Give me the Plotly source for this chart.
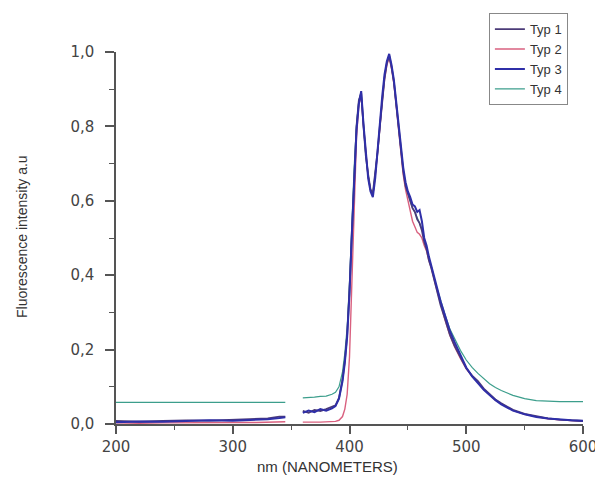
import plotly.graph_objects as go

# Wavelengths (nm); 352 marks the gap in the recorded spectra
wavelengths = [200, 220, 240, 260, 280, 300, 320, 330, 340, 345,
               352,
               360, 365, 370, 375, 380, 385, 388, 391, 394, 396, 398,
               400, 402, 404, 406, 408, 410, 412, 414, 416, 418,
               420, 422, 424, 426, 428, 430, 432, 434, 436, 438,
               440, 442, 444, 446, 448, 450, 452, 454, 456, 458,
               460, 462, 464, 466, 468, 470, 474, 478, 482, 486,
               490, 495, 500, 505, 510, 515, 520, 525, 530, 540,
               550, 560, 570, 580, 590, 600]

typ1 = [0.008, 0.006, 0.008, 0.010, 0.009, 0.012, 0.013, 0.015, 0.020, 0.020,
        None,
        0.035, 0.030, 0.038, 0.035, 0.040, 0.045, 0.050, 0.070, 0.120, 0.170, 0.240,
        0.360, 0.520, 0.680, 0.800, 0.870, 0.890, 0.800, 0.720, 0.670, 0.630,
        0.620, 0.670, 0.730, 0.800, 0.870, 0.930, 0.970, 0.990, 0.960, 0.920,
        0.860, 0.800, 0.740, 0.680, 0.640, 0.620, 0.600, 0.580, 0.570, 0.550,
        0.540, 0.520, 0.490, 0.470, 0.440, 0.420, 0.370, 0.320, 0.280, 0.240,
        0.210, 0.178, 0.150, 0.130, 0.115, 0.095, 0.080, 0.066, 0.056, 0.038,
        0.027, 0.020, 0.015, 0.012, 0.010, 0.008]

typ2 = [0.003, 0.002, 0.003, 0.004, 0.003, 0.004, 0.004, 0.005, 0.005, 0.006,
        None,
        0.005, 0.004, 0.005, 0.005, 0.006, 0.006, 0.007, 0.010, 0.020, 0.040, 0.080,
        0.180, 0.380, 0.600, 0.770, 0.860, 0.880, 0.800, 0.720, 0.665, 0.630,
        0.615, 0.665, 0.725, 0.795, 0.865, 0.925, 0.965, 0.985, 0.955, 0.915,
        0.855, 0.795, 0.735, 0.670, 0.630, 0.600, 0.570, 0.545, 0.530, 0.515,
        0.510, 0.500, 0.480, 0.465, 0.440, 0.420, 0.370, 0.320, 0.278, 0.238,
        0.208, 0.176, 0.148, 0.128, 0.112, 0.093, 0.078, 0.064, 0.054, 0.037,
        0.026, 0.019, 0.014, 0.011, 0.009, 0.007]

typ3 = [0.005, 0.007, 0.006, 0.008, 0.010, 0.009, 0.011, 0.013, 0.016, 0.018,
        None,
        0.030, 0.036, 0.032, 0.040, 0.036, 0.042, 0.048, 0.068, 0.115, 0.165, 0.235,
        0.350, 0.510, 0.670, 0.790, 0.860, 0.895, 0.805, 0.725, 0.660, 0.625,
        0.610, 0.660, 0.740, 0.810, 0.880, 0.940, 0.975, 0.995, 0.965, 0.925,
        0.865, 0.805, 0.745, 0.690, 0.650, 0.625, 0.610, 0.590, 0.585, 0.570,
        0.575, 0.545, 0.500, 0.480, 0.450, 0.425, 0.375, 0.330, 0.290, 0.250,
        0.220, 0.185, 0.152, 0.128, 0.110, 0.092, 0.078, 0.064, 0.053, 0.036,
        0.026, 0.019, 0.015, 0.012, 0.010, 0.009]

typ4 = [0.058, 0.058, 0.058, 0.058, 0.058, 0.058, 0.058, 0.058, 0.058, 0.058,
        None,
        0.070, 0.070, 0.072, 0.074, 0.075, 0.080, 0.085, 0.100, 0.140, 0.190, 0.260,
        0.380, 0.540, 0.690, 0.805, 0.870, 0.890, 0.800, 0.720, 0.670, 0.630,
        0.620, 0.670, 0.730, 0.800, 0.870, 0.930, 0.970, 0.990, 0.960, 0.920,
        0.860, 0.800, 0.740, 0.680, 0.640, 0.620, 0.600, 0.580, 0.570, 0.555,
        0.545, 0.525, 0.495, 0.475, 0.445, 0.425, 0.375, 0.330, 0.292, 0.255,
        0.228, 0.198, 0.172, 0.152, 0.136, 0.121, 0.108, 0.098, 0.090, 0.077,
        0.068, 0.063, 0.061, 0.060, 0.060, 0.060]

series_names = ["Typ 1", "Typ 2", "Typ 3", "Typ 4"]
series_values = [typ1, typ2, typ3, typ4]
series_colors = ["#4b3b78", "#d9607f", "#2f2fa8", "#3c9e8c"]
series_widths = [1.8, 1.4, 2.0, 1.2]
draw_order = [3, 1, 0, 2]

y_ticks = [0.0, 0.2, 0.4, 0.6, 0.8, 1.0]
x_ticks = [200, 300, 400, 500, 600]
x_title = "nm (NANOMETERS)"
y_title = "Fluorescence intensity a.u"

fig = go.Figure()
for i in draw_order:
    fig.add_trace(go.Scatter(
        x=wavelengths, y=series_values[i], mode="lines",
        name=series_names[i], legendrank=i + 1,
        line=dict(color=series_colors[i], width=series_widths[i]),
        connectgaps=False,
    ))

axis_font = dict(family="DejaVu Sans", size=15, color="#444444")
title_font = dict(family="Liberation Sans, Arial", size=14, color="#333333")

# page body has an 8px default margin; figure size compensates for it
fig.update_layout(
    width=595, height=473,
    margin=dict(l=108, r=20, t=44, b=57, autoexpand=False),
    paper_bgcolor="white", plot_bgcolor="white",
    separators=",.",
    font=dict(family="Liberation Sans, Arial", size=12, color="#222222"),
    showlegend=True,
    legend=dict(
        xref="container", yref="container",
        x=0.941, xanchor="right", y=0.989, yanchor="top",
        bordercolor="#888888", borderwidth=1, bgcolor="white",
        font=dict(family="Liberation Sans, Arial", size=13, color="#333333"),
        tracegroupgap=0, itemwidth=30,
    ),
    xaxis=dict(
        range=[200, 600], tickvals=x_ticks, tickfont=axis_font,
        showgrid=False, zeroline=False, automargin=False,
        showline=True, linecolor="#555555", linewidth=1.5,
        ticks="outside", ticklen=8, tickwidth=1.5, tickcolor="#555555",
        minor=dict(dtick=50, ticks="outside", ticklen=4, tickcolor="#555555", tickwidth=1.2),
    ),
    yaxis=dict(
        range=[0, 1.0], tickvals=y_ticks, tickformat=".1f", tickfont=axis_font,
        showgrid=False, zeroline=False, automargin=False,
        showline=True, linecolor="#555555", linewidth=1.5,
        ticks="outside", ticklen=9, tickwidth=1.5, tickcolor="#555555",
        ticklabelstandoff=8,
        minor=dict(dtick=0.1, ticks="outside", ticklen=5, tickcolor="#555555", tickwidth=1.2),
    ),
    annotations=[
        dict(text=x_title, xref="paper", yref="paper", x=0.452, y=-0.113,
             xanchor="center", yanchor="middle", showarrow=False,
             font=dict(family="Liberation Sans, Arial", size=15, color="#333333")),
        dict(text=y_title, xref="paper", yref="paper", x=-0.201, y=0.503,
             xanchor="center", yanchor="middle", textangle=-90, showarrow=False,
             font=title_font),
    ],
)

fig.write_html("out.html")
